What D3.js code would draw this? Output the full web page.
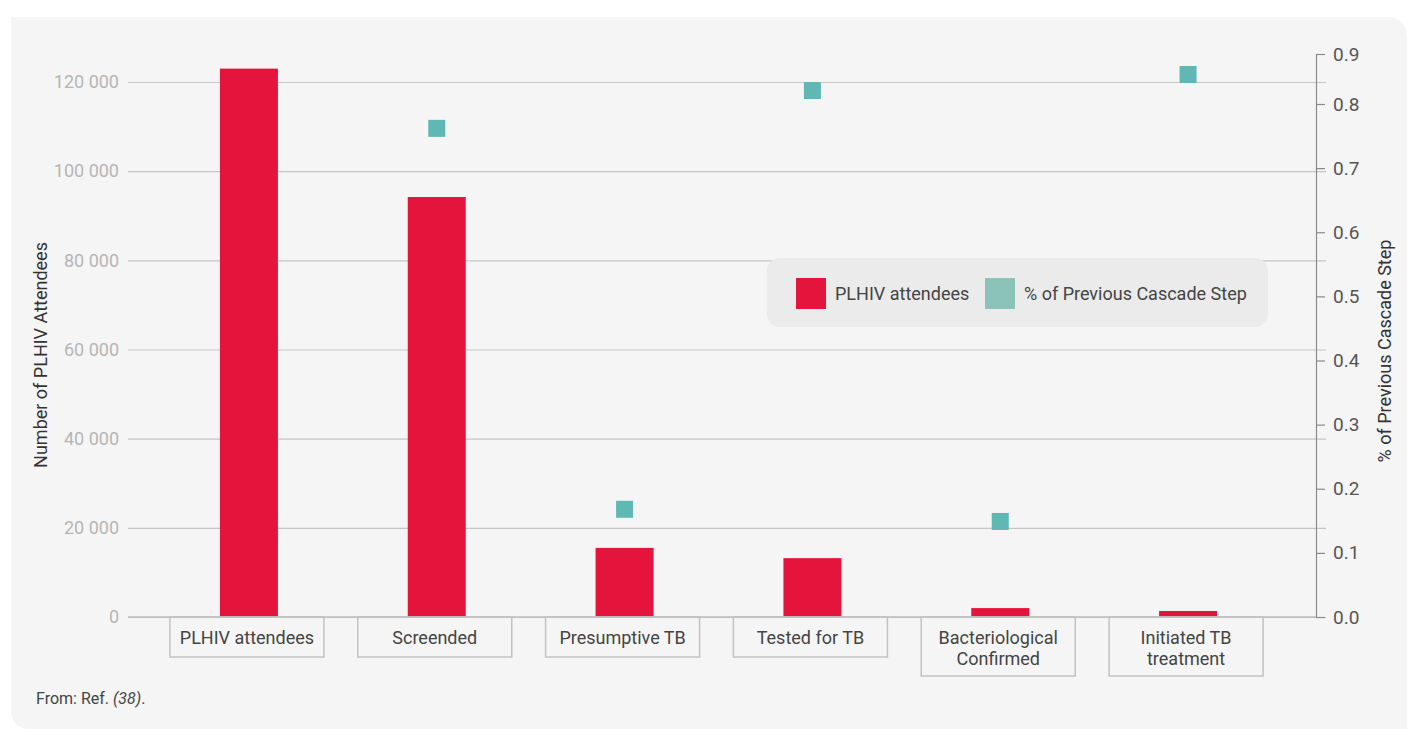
<!DOCTYPE html>
<html>
<head>
<meta charset="utf-8">
<script src="https://cdn.jsdelivr.net/npm/d3@7"></script>
<style>
  body { margin: 0; background: #fff; }
  text { font-family: Roboto, "Noto Sans", sans-serif; }
</style>
</head>
<body>
<div id="chart"></div>
<script>
// Data
const categories = ["PLHIV attendees", "Screended", "Presumptive TB", "Tested for TB", "Bacteriological\nConfirmed", "Initiated TB\ntreatment"];
const attendees = [123000, 94200, 15500, 13200, 2000, 1350];
const pctPrevious = [null, 0.762, 0.168, 0.827, 0.149, 0.859];
const leftTicks = [0, 20000, 40000, 60000, 80000, 100000, 120000];
const rightTicks = [0, 0.1, 0.2, 0.3, 0.4, 0.5, 0.6, 0.7, 0.8, 0.9];

const width = 1407, height = 729;
const barColor = "#e5143c";
const dotColor = "#60b8b5";

const svg = d3.select("#chart").append("svg")
    .attr("width", width)
    .attr("height", height);

// Panel background (rounded top-right and bottom-left)
const px0 = 11, py0 = 17, px1 = 1407, py1 = 729, r = 20;
svg.append("path")
    .attr("d", `M${px0},${py0}H${px1 - r}Q${px1},${py0} ${px1},${py0 + r}V${py1}H${px0 + r}Q${px0},${py1} ${px0},${py1 - r}Z`)
    .attr("fill", "#f5f5f5");

// Scales
const x = d3.scaleBand().domain(categories).range([155, 1282]);
const y = d3.scaleLinear().domain([0, 120000]).range([617, 82]);
// right axis in the reference is squeezed above 0.8
const y2 = d3.scaleLinear().domain([0, 0.8, 0.9]).range([617, 104, 54]);

const locale = d3.formatLocale({ decimal: ".", thousands: " ", grouping: [3], currency: ["", ""] });
const fmt = locale.format(",d");

// Left gridlines + labels
const gridLeft = 128, gridRight = 1326;
const leftAxis = svg.append("g")
    .attr("transform", `translate(${gridLeft},0)`)
    .call(d3.axisLeft(y).tickValues(leftTicks).tickFormat(fmt)
        .tickSize(-(gridRight - gridLeft)).tickPadding(9));
leftAxis.select(".domain").remove();
leftAxis.selectAll(".tick line").attr("stroke", "#c6c6c6").attr("stroke-width", 1.2);
leftAxis.selectAll(".tick text")
    .attr("fill", "#b5b5b5")
    .style("font-size", "18px");

// Right axis
const rightAxis = svg.append("g")
    .attr("transform", "translate(1316,0)")
    .call(d3.axisRight(y2).tickValues(rightTicks).tickFormat(d3.format(".1f"))
        .tickSize(9).tickPadding(8));
rightAxis.selectAll("path, line").attr("stroke", "#8a8a8a").attr("stroke-width", 1.2);
rightAxis.selectAll(".tick text")
    .attr("fill", "#555")
    .style("font-size", "19px");

// Bars
const barW = 58;
svg.append("g").selectAll("rect")
    .data(attendees)
    .join("rect")
    .attr("x", (d, i) => x(categories[i]) + x.bandwidth() / 2 - barW / 2)
    .attr("y", d => y(d))
    .attr("width", barW)
    .attr("height", d => y(0) - y(d))
    .attr("fill", barColor);

// Percentage markers
const sq = 17;
svg.append("g").selectAll("rect")
    .data(pctPrevious.map((v, i) => ({ v, c: categories[i] })).filter(d => d.v !== null))
    .join("rect")
    .attr("x", d => x(d.c) + x.bandwidth() / 2 - sq / 2)
    .attr("y", d => y2(d.v) - sq / 2)
    .attr("width", sq)
    .attr("height", sq)
    .attr("fill", dotColor);

// Baseline
svg.append("line")
    .attr("x1", gridLeft).attr("x2", 1316)
    .attr("y1", y(0)).attr("y2", y(0))
    .attr("stroke", "#bdbdbd").attr("stroke-width", 1.5);

// Category boxes
const boxW = 154;
const cat = svg.append("g").selectAll("g")
    .data(categories)
    .join("g")
    .attr("transform", d => `translate(${x(d) + x.bandwidth() / 2 - 2},${y(0)})`);

cat.append("rect")
    .attr("x", -boxW / 2)
    .attr("y", 0)
    .attr("width", boxW)
    .attr("height", d => d.includes("\n") ? 59 : 40)
    .attr("fill", "none")
    .attr("stroke", "#c2c2c2")
    .attr("stroke-width", 1.5);

cat.append("text")
    .attr("text-anchor", "middle")
    .attr("fill", "#444")
    .style("font-size", "18px")
    .selectAll("tspan")
    .data(d => d.split("\n"))
    .join("tspan")
    .attr("x", 0)
    .attr("y", (d, i) => 27 + i * 21)
    .text(d => d);

// Axis titles
svg.append("text")
    .attr("transform", "translate(47,355) rotate(-90)")
    .attr("text-anchor", "middle")
    .attr("fill", "#333")
    .style("font-size", "18px")
    .text("Number of PLHIV Attendees");

svg.append("text")
    .attr("transform", "translate(1391,351) rotate(-90)")
    .attr("text-anchor", "middle")
    .attr("fill", "#333")
    .style("font-size", "18px")
    .text("% of Previous Cascade Step");

// Legend
const legend = svg.append("g");
legend.append("rect")
    .attr("x", 767).attr("y", 258)
    .attr("width", 501).attr("height", 69)
    .attr("rx", 13)
    .attr("fill", "#ebebeb");

const legendItems = [
    { label: "PLHIV attendees", color: barColor, x: 796 },
    { label: "% of Previous Cascade Step", color: "#8cc3b9", x: 985 }
];
const li = legend.selectAll("g.item")
    .data(legendItems)
    .join("g")
    .attr("class", "item")
    .attr("transform", d => `translate(${d.x},278)`);
li.append("rect")
    .attr("width", 30).attr("height", 31)
    .attr("fill", d => d.color);
li.append("text")
    .attr("x", 39).attr("y", 22)
    .attr("fill", "#444")
    .style("font-size", "18px")
    .text(d => d.label);

// Source note
const note = svg.append("text")
    .attr("x", 36).attr("y", 704)
    .attr("fill", "#444")
    .style("font-size", "16px");
note.append("tspan").text("From: Ref. ");
note.append("tspan").style("font-style", "italic").text("(38)");
note.append("tspan").text(".");
</script>
</body>
</html>
